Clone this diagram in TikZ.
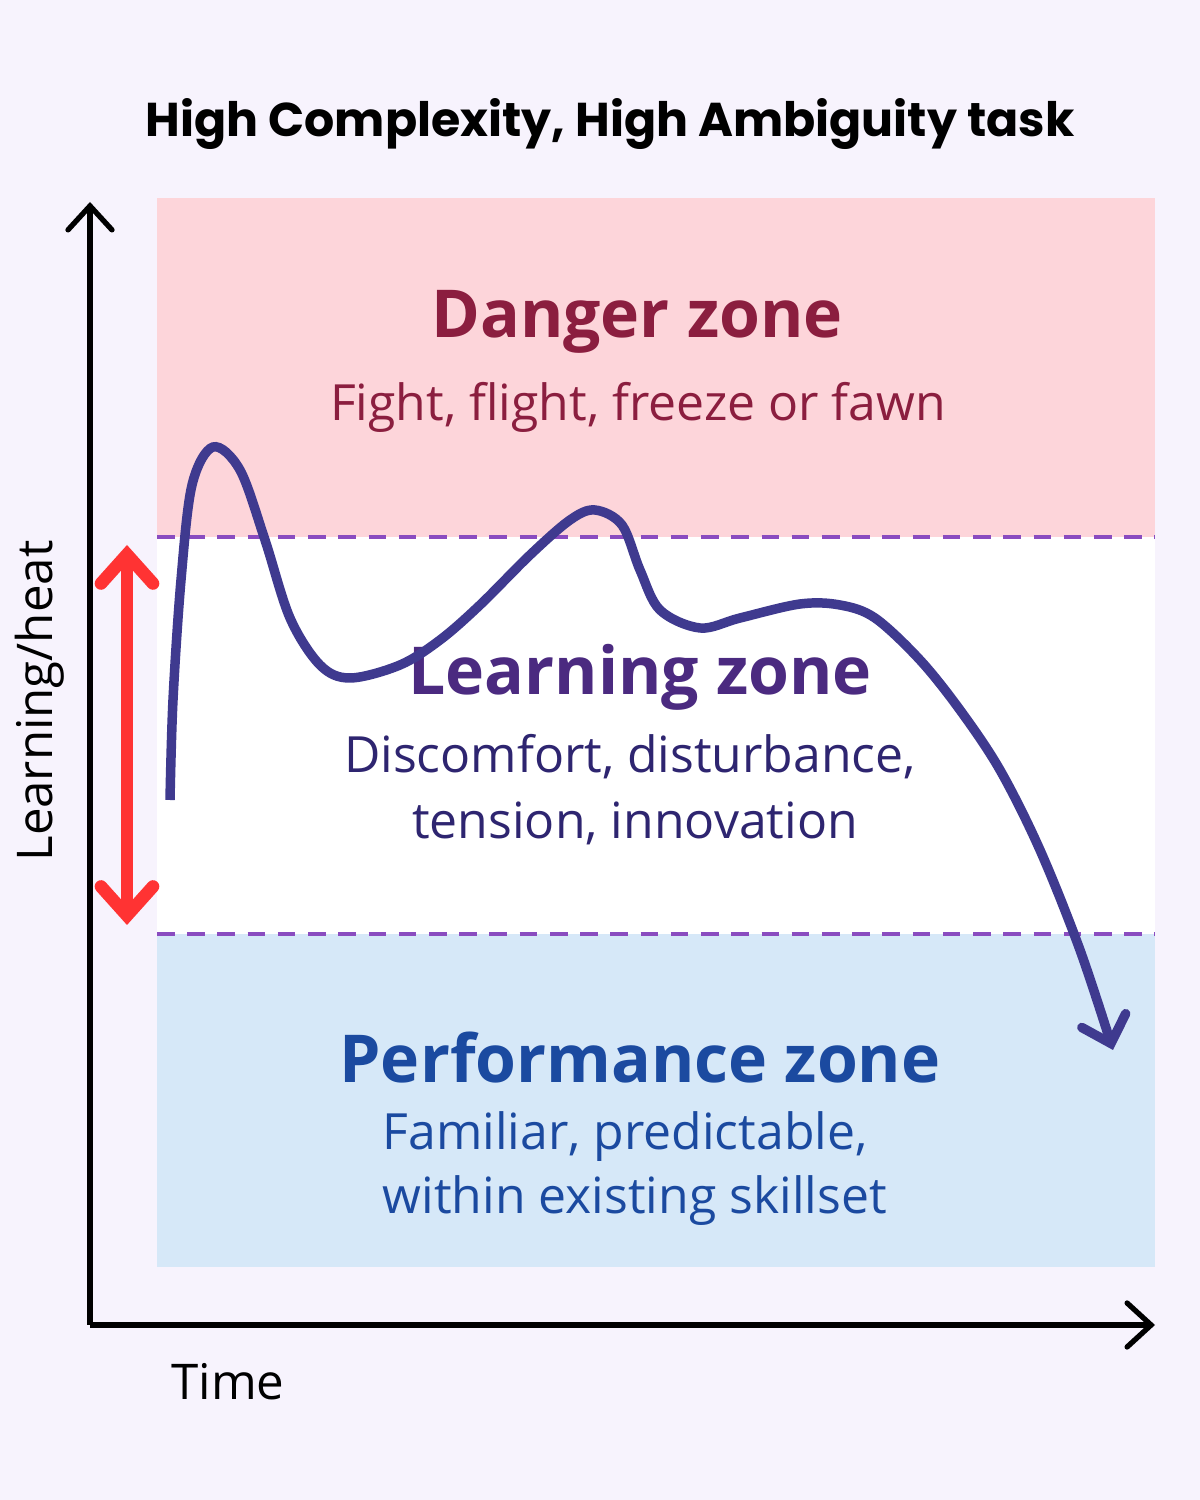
\documentclass[tikz,border=0pt]{standalone}
\usepackage{fontspec}
\setmainfont{Open Sans}
\newfontfamily\titlefont{Poppins}
\usetikzlibrary{arrows.meta,positioning}
\definecolor{pagebg}{HTML}{F7F3FD}
\definecolor{dangerbg}{HTML}{FDD5DA}
\definecolor{perfbg}{HTML}{D6E8F8}
\definecolor{dashpurple}{HTML}{8A4CC0}
\definecolor{curveblue}{HTML}{3F3A8F}
\definecolor{arrowred}{HTML}{FF3333}
\definecolor{dangertext}{HTML}{8B1E3F}
\definecolor{learntext}{HTML}{4B2A80}
\definecolor{learnsub}{HTML}{2E2570}
\definecolor{perftext}{HTML}{1B4AA0}
\tikzset{
  axisline/.style={line width=1.5pt,black,-{Straight Barb[length=2.4mm,width=4.4mm,line cap=round]}},
  zoneline/.style={line width=.9pt,dashpurple,dash pattern=on 5pt off 3.6pt},
  heatarrow/.style={line width=3.6pt,arrowred,line cap=round,
    {Straight Barb[length=2.9mm,width=5.2mm,line cap=round]}-{Straight Barb[length=2.9mm,width=5.2mm,line cap=round]}},
  curveline/.style={line width=2.7pt,curveblue,-{Straight Barb[length=2.4mm,width=4.6mm,line cap=round]}},
  zonehead/.style={font=\fontsize{18.8}{23}\selectfont\bfseries,inner sep=0pt},
  zonesub/.style={font=\fontsize{14.2}{17}\selectfont,inner sep=0pt},
  axislab/.style={font=\fontsize{14}{17}\selectfont,inner sep=0pt}
}
\begin{document}
\begin{tikzpicture}
  \useasboundingbox[fill=pagebg] (0,0) rectangle (12,15);

  % zones
  \fill[dangerbg] (1.57,9.63) rectangle (11.55,13.02);
  \fill[white] (1.57,5.66) rectangle (11.55,9.63);
  \fill[perfbg] (1.57,2.33) rectangle (11.55,5.66);
  \draw[zoneline] (1.57,9.63) -- (11.55,9.63);
  \draw[zoneline] (1.57,5.66) -- (11.55,5.66);

  % axes
  \coordinate (origin) at (0.9,1.75);
  \coordinate (ytop) at (0.9,12.98);
  \coordinate (xend) at (11.55,1.75);
  \draw[axisline] (origin) -- (ytop);
  \draw[axisline] (origin) -- (xend);
  \node[axislab,rotate=90] (ylab) at (0.40,7.99) {Learning/heat};
  \node[axislab] (xlab) at (2.28,1.18) {Time};

  % title
  \node[font=\titlefont\bfseries\fontsize{13.5}{16}\selectfont,inner sep=0pt] (title) at (6.1,13.76)
    {High Complexity, High Ambiguity task};

  % zone labels
  \node[zonehead,text=dangertext] (danger) at (6.37,11.78) {Danger zone};
  \node[zonesub,text=dangertext] (dangersub) at (6.38,10.93) {Fight, flight, freeze or fawn};
  \node[zonehead,text=learntext] (learn) at (6.40,8.23) {Learning zone};
  \node[zonesub,text=learnsub] (learnsub) at (6.30,7.43) {Discomfort, disturbance,};
  \node[zonesub,text=learnsub] (learnsub2) at (6.35,6.77) {tension, innovation};
  \node[zonehead,text=perftext] (perf) at (6.40,4.42) {Performance zone};
  \node[zonesub,text=perftext,anchor=west] (perfsub) at (3.82,3.63) {Familiar, predictable,};
  \node[zonesub,text=perftext,anchor=west] (perfsub2) at (3.82,2.99) {within existing skillset};

  % red range arrow
  \coordinate (rtop) at (1.27,9.55);
  \coordinate (rbot) at (1.27,5.75);
  \draw[heatarrow] (rbot) -- (rtop);

  % learning curve
  \draw[curveline] plot[smooth,tension=0.55] coordinates {
    (1.70,7.00) (1.73,8.00) (1.81,9.20) (1.92,10.15) (2.13,10.53) (2.40,10.30)
    (2.65,9.60) (2.90,8.82) (3.20,8.35) (3.50,8.22) (4.00,8.35) (4.40,8.60)
    (4.80,8.95) (5.30,9.45) (5.70,9.80) (5.95,9.90) (6.22,9.75) (6.40,9.30)
    (6.60,8.90) (7.00,8.72) (7.40,8.82) (8.00,8.96) (8.40,8.95) (8.75,8.82)
    (9.20,8.40) (9.60,7.90) (10.00,7.30) (10.40,6.50) (10.80,5.50) (11.13,4.50)};
\end{tikzpicture}
\end{document}
